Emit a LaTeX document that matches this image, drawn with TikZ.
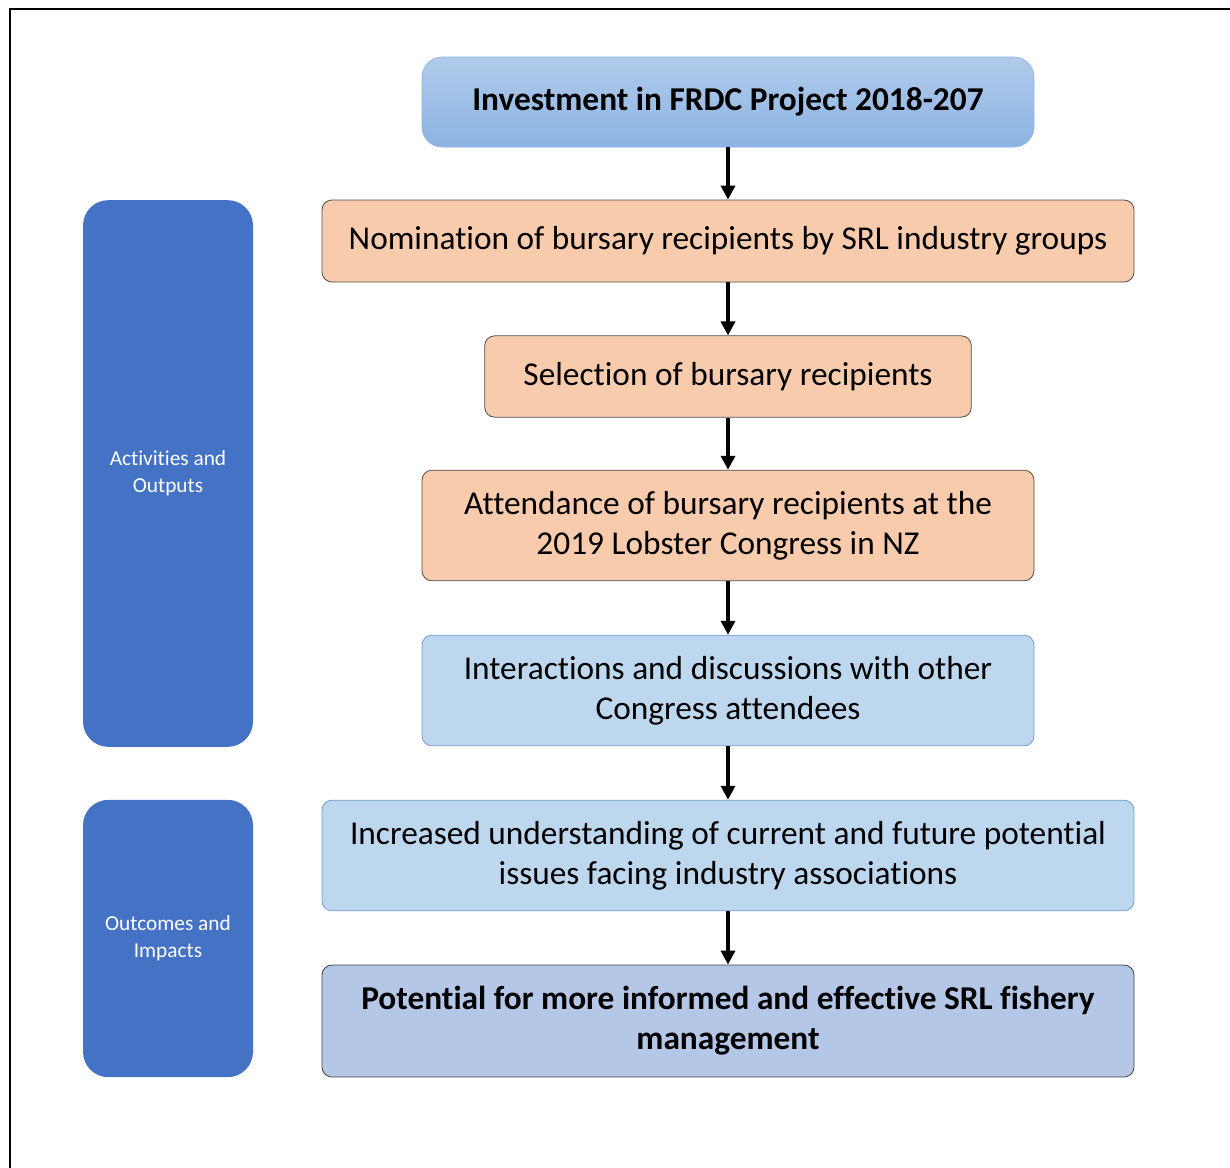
\documentclass[tikz,border=0pt]{standalone}
\usepackage{fontspec}
\setmainfont[Ligatures=NoCommon]{Carlito}
\usetikzlibrary{shapes, arrows.meta}

\definecolor{invtop}{HTML}{B0CBEA}
\definecolor{invbot}{HTML}{8CB3E3}
\definecolor{invline}{HTML}{8DB3E2}
\definecolor{actfill}{HTML}{F8CBAD}
\definecolor{outfill}{HTML}{BDD7EE}
\definecolor{outline}{HTML}{7A9CD3}
\definecolor{potfill}{HTML}{B4C7E7}
\definecolor{sidefill}{HTML}{4472C4}

\begin{document}
\begin{tikzpicture}[x=0.75pt, y=-0.75pt,
  box/.style={rectangle, rounded corners=7.5pt, align=center, inner sep=0pt,
    font=\fontsize{25}{30}\selectfont},
  act/.style={box, draw=black!70, fill=actfill, line width=0.6pt},
  outc/.style={box, draw=outline, fill=outfill, line width=0.6pt},
  side/.style={rectangle, rounded corners=19pt, fill=sidefill, text=white,
    align=center, inner sep=0pt, minimum width=127.5pt,
    font=\fontsize{16}{20}\selectfont},
  flow/.style={-{Triangle[width=10.5pt, length=10.5pt]}, line width=2.6pt}]
\useasboundingbox (0,0) rectangle (1230,1167);
% frame
\draw[line width=2pt] (10,1180) -- (10,9) -- (1240,9);

\node[box, draw=invline, top color=invtop, bottom color=invbot, rounded corners=15pt,
  minimum width=459pt, minimum height=67.5pt, font=\fontsize{25}{30}\bfseries]
  (inv) at (728,102) {Investment in FRDC Project 2018-207};
\node[act, minimum width=609pt, minimum height=61.5pt] (nom) at (728,241)
  {Nomination of bursary recipients by SRL industry groups};
\node[act, minimum width=365pt, minimum height=61pt] (sel) at (728,376.5)
  {Selection of bursary recipients};
\node[act, minimum width=459pt, minimum height=83pt] (att) at (728,525.5)
  {Attendance of bursary recipients at the\\2019 Lobster Congress in NZ};
\node[outc, minimum width=459pt, minimum height=83pt] (int) at (728,690.5)
  {Interactions and discussions with other\\Congress attendees};
\node[outc, minimum width=609pt, minimum height=83pt] (und) at (728,855.5)
  {Increased understanding of current and future potential\\issues facing industry associations};
\node[box, draw=black!75, fill=potfill, line width=0.6pt, minimum width=609pt,
  minimum height=84pt, font=\fontsize{25}{30}\bfseries] (pot) at (728,1021)
  {Potential for more informed and effective SRL fishery\\management};

\node[side, minimum height=410pt] (actout) at (168,473.5) {Activities and\\Outputs};
\node[side, minimum height=208pt] (outimp) at (168,938.5) {Outcomes and\\Impacts};

% Arrows:
\draw[flow] (inv) -- (nom);
\draw[flow] (nom) -- (sel);
\draw[flow] (sel) -- (att);
\draw[flow] (att) -- (int);
\draw[flow] (int) -- (und);
\draw[flow] (und) -- (pot);
\end{tikzpicture}
\end{document}
